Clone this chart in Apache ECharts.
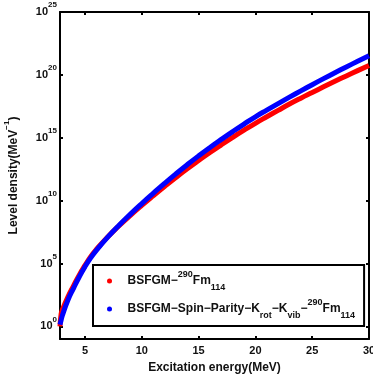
<!DOCTYPE html>
<html>
<head>
<meta charset="utf-8">
<script src="https://cdn.jsdelivr.net/npm/echarts@6/dist/echarts.min.js"></script>
<style>
  html, body { margin: 0; padding: 0; background: #fff; }
  #chart { width: 373px; height: 379px; }
</style>
</head>
<body>
<div id="chart"></div>
<script>
// excitation energy (MeV)
const energy = [2.8, 2.9, 3, 3.5, 4, 4.5, 5, 5.5, 6,
  7, 8, 9, 10, 11, 12, 13, 14, 15, 16,
  17, 18, 19, 20, 21, 22, 23, 24, 25, 26,
  27, 28, 29, 30]

// log10 of level density (MeV^-1)
const bsfgmLog10 = [0.0, 1.0, 1.3, 2.35, 3.25, 4.1, 4.85, 5.55, 6.12,
  7.12, 8.0, 8.83, 9.62, 10.38, 11.12, 11.84, 12.53, 13.19, 13.83,
  14.44, 15.03, 15.6, 16.15, 16.67, 17.18, 17.68, 18.15, 18.6, 19.05,
  19.49, 19.92, 20.34, 20.75]
const spinParityLog10 = [0.15, 0.5, 0.85, 2.1, 3.05, 3.95, 4.75, 5.45, 6.05,
  7.1, 8.05, 8.93, 9.77, 10.58, 11.37, 12.13, 12.86, 13.56, 14.23,
  14.87, 15.49, 16.09, 16.67, 17.2, 17.72, 18.23, 18.73, 19.22, 19.7,
  20.17, 20.63, 21.08, 21.52]

const xTicks = [5, 10, 15, 20, 25, 30]
const yTicks = [1, 1e5, 1e10, 1e15, 1e20, 1e25]

const seriesNames = ['BSFGM-290Fm114', 'BSFGM-Spin-Parity-Krot-Kvib-290Fm114']
const legendLabels = [
  'BSFGM−{sup|290}Fm{sub|114}',
  'BSFGM−Spin−Parity−K{sub|rot}−K{sub|vib}−{sup|290}Fm{sub|114}',
]

const font = 'Liberation Sans, Arial, sans-serif'
const rich = {
  sup: { fontFamily: font, fontWeight: 'bold', fontSize: 8, color: '#111', verticalAlign: 'top', lineHeight: 8 },
  sub: { fontFamily: font, fontWeight: 'bold', fontSize: 8, color: '#111', verticalAlign: 'bottom', lineHeight: 8 },
}
const legendRich = {
  sup: { fontFamily: font, fontWeight: 'bold', fontSize: 9, color: '#111', verticalAlign: 'top', lineHeight: 9 },
  sub: { fontFamily: font, fontWeight: 'bold', fontSize: 9, color: '#111', verticalAlign: 'bottom', lineHeight: 9 },
}

const chart = echarts.init(document.getElementById('chart'))

const toPairs = (logs) => energy.map((x, i) => [x, Math.pow(10, logs[i])])

const option = {
  animation: false,
  grid: { left: 60, top: 12, right: 4, bottom: 40, outerBoundsMode: 'none', containLabel: false },
  legend: {
    orient: 'vertical',
    left: 93,
    top: 265,
    icon: 'circle',
    itemWidth: 26,
    itemHeight: 5,
    itemGap: 6,
    padding: [5, 9, 6, 14],
    borderColor: '#000',
    borderWidth: 2,
    data: seriesNames,
    formatter: (name) => legendLabels[seriesNames.indexOf(name)],
    textStyle: {
      fontFamily: font,
      fontWeight: 'bold',
      fontSize: 12,
      color: '#111',
      lineHeight: 22,
      rich: legendRich,
    },
  },
  xAxis: [
    {
      type: 'value',
      min: 2.8,
      max: 30,
      name: 'Excitation energy(MeV)',
      nameLocation: 'middle',
      nameGap: 23,
      nameTextStyle: { fontFamily: font, fontWeight: 'bold', fontSize: 12, color: '#111' },
      axisLine: { onZero: false, lineStyle: { color: '#000', width: 2 } },
      axisTick: { inside: true, length: 3, customValues: xTicks, lineStyle: { color: '#000', width: 2 } },
      axisLabel: { customValues: xTicks, margin: 6, fontFamily: font, fontWeight: 'bold', fontSize: 11, color: '#111' },
      splitLine: { show: false },
    },
    {
      type: 'value',
      position: 'top',
      min: 2.8,
      max: 30,
      axisLine: { onZero: false, lineStyle: { color: '#000', width: 2 } },
      axisTick: { inside: true, length: 3, customValues: xTicks, lineStyle: { color: '#000', width: 2 } },
      axisLabel: { show: false },
      splitLine: { show: false },
    },
  ],
  yAxis: [
    {
      type: 'log',
      logBase: 10,
      min: 0.1,
      max: 1e25,
      name: 'Level density(MeV{sup|−1})',
      nameLocation: 'middle',
      nameGap: 25,
      nameTextStyle: { fontFamily: font, fontWeight: 'bold', fontSize: 12, color: '#111', lineHeight: 22, rich: rich },
      axisLine: { onZero: false, lineStyle: { color: '#000', width: 2 } },
      axisTick: { inside: true, length: 3, customValues: yTicks, lineStyle: { color: '#000', width: 2 } },
      axisLabel: {
        customValues: yTicks,
        margin: 3,
        fontFamily: font,
        fontWeight: 'bold',
        fontSize: 11,
        color: '#111',
        lineHeight: 22,
        rich: rich,
        formatter: (v) => '10{sup|' + Math.round(Math.log10(v)) + '}',
      },
      splitLine: { show: false },
      minorTick: { show: false },
    },
    {
      type: 'log',
      logBase: 10,
      position: 'right',
      min: 0.1,
      max: 1e25,
      axisLine: { onZero: false, lineStyle: { color: '#000', width: 2 } },
      axisTick: { inside: true, length: 3, customValues: yTicks, lineStyle: { color: '#000', width: 2 } },
      axisLabel: { show: false },
      splitLine: { show: false },
    },
  ],
  series: [
    {
      name: seriesNames[0],
      type: 'line',
      smooth: true,
      showSymbol: false,
      color: '#ff0000',
      lineStyle: { color: '#ff0000', width: 5 },
      data: toPairs(bsfgmLog10),
    },
    {
      name: seriesNames[1],
      type: 'line',
      smooth: true,
      showSymbol: false,
      color: '#0000ff',
      lineStyle: { color: '#0000ff', width: 5 },
      data: toPairs(spinParityLog10),
    },
  ],
}

chart.setOption(option)
</script>
</body>
</html>
